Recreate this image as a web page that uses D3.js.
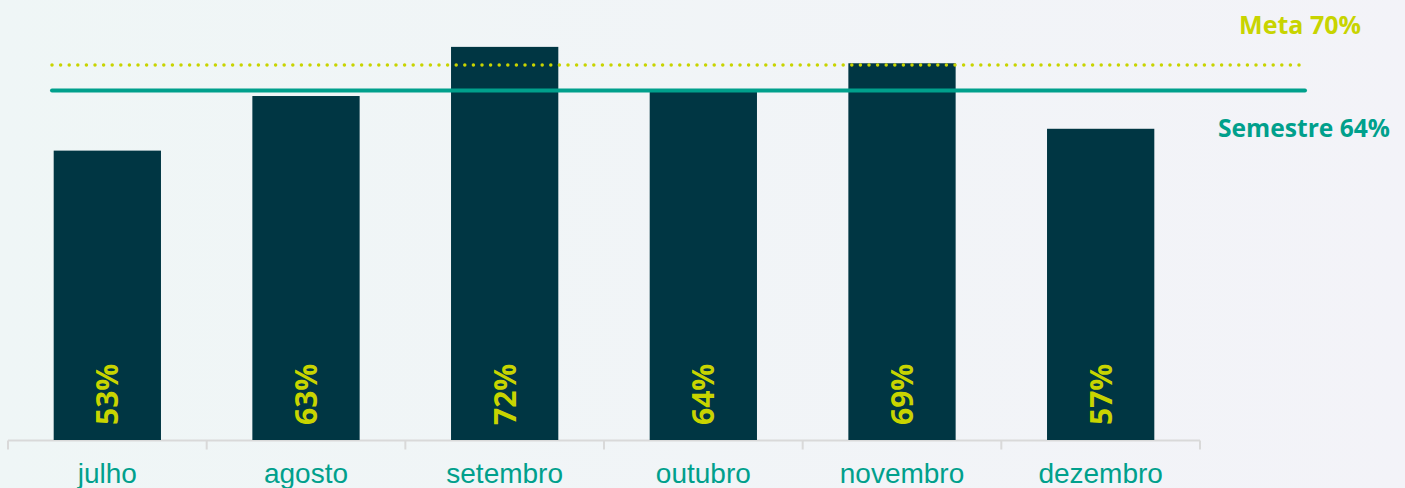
<!DOCTYPE html>
<html>
<head>
<meta charset="utf-8">
<script src="https://cdn.jsdelivr.net/npm/d3@7"></script>
<style>
  html, body { margin: 0; padding: 0; }
  body { width: 1405px; height: 488px; overflow: hidden; }
</style>
</head>
<body>
<script>
var months = ["julho", "agosto", "setembro", "outubro", "novembro", "dezembro"];
var values = [53, 63, 72, 64, 69, 57];
var valueLabels = ["53%", "63%", "72%", "64%", "69%", "57%"];
var metaValue = [68.7];
var metaLabel = ["Meta 70%"];
var semestreValue = [64];
var semestreLabel = ["Semestre 64%"];

function init() {
  var W = 1405, H = 488,
      colors = {bar: "#003643", lime: "#c8d400", teal: "#00a08c", grid: "#d9d9d9"};

  var svg = d3.select("body").append("svg")
    .attr("width", W)
    .attr("height", H);

  var defs = svg.append("defs");
  var grad = defs.append("linearGradient").attr("id", "bg")
    .attr("x1", "0").attr("x2", "1").attr("y1", "0").attr("y2", "0");
  grad.append("stop").attr("offset", "0").attr("stop-color", "#eff6f6");
  grad.append("stop").attr("offset", "1").attr("stop-color", "#f3f3f8");
  svg.append("rect").attr("width", W).attr("height", H).attr("fill", "url(#bg)");

  var x = d3.scaleBand().domain(months).range([8, 1200]).paddingInner(0.46).paddingOuter(0.23);
  var y = d3.scaleLinear().domain([0, 100]).range([440, -106]);

  // baseline + tick marks between the bands
  var gx = svg.append("g").attr("transform", "translate(0,440.5)");
  gx.append("line").attr("x1", 8).attr("x2", 1200)
    .attr("stroke", colors.grid).attr("stroke-width", 2);
  d3.range(months.length + 1).forEach(function (i) {
    var tx = 8 + i * (1192 / months.length);
    gx.append("line").attr("x1", tx).attr("x2", tx).attr("y1", 0).attr("y2", 9)
      .attr("stroke", colors.grid).attr("stroke-width", 2);
  });

  svg.append("g").selectAll("rect").data(values).enter().append("rect")
    .attr("x", function (d, i) { return x(months[i]); })
    .attr("y", function (d) { return y(d); })
    .attr("width", x.bandwidth())
    .attr("height", function (d) { return y(0) - y(d); })
    .attr("fill", colors.bar);

  svg.append("g").selectAll("text").data(valueLabels).enter().append("text")
    .attr("transform", function (d, i) {
      return "translate(" + (x(months[i]) + x.bandwidth() / 2 + 11) + ",425) rotate(-90)";
    })
    .attr("font-family", "'Open Sans', sans-serif")
    .attr("font-weight", "bold")
    .attr("font-size", 30)
    .attr("fill", colors.lime)
    .text(function (d) { return d; });

  svg.append("g").selectAll("text").data(months).enter().append("text")
    .attr("x", function (d) { return x(d) + x.bandwidth() / 2; })
    .attr("y", 483)
    .attr("text-anchor", "middle")
    .attr("font-family", "'Liberation Sans', Arial, sans-serif")
    .attr("font-size", 28)
    .attr("fill", colors.teal)
    .text(function (d) { return d; });

  // reference lines
  svg.append("line")
    .attr("x1", 52).attr("x2", 1300)
    .attr("y1", y(metaValue[0])).attr("y2", y(metaValue[0]))
    .attr("stroke", colors.lime).attr("stroke-width", 3.5)
    .attr("stroke-linecap", "round").attr("stroke-dasharray", "0 8.6");

  svg.append("line")
    .attr("x1", 52).attr("x2", 1305)
    .attr("y1", y(semestreValue[0])).attr("y2", y(semestreValue[0]))
    .attr("stroke", colors.teal).attr("stroke-width", 4)
    .attr("stroke-linecap", "round");

  svg.append("text")
    .attr("x", 1361).attr("y", 34)
    .attr("text-anchor", "end")
    .attr("font-family", "'Open Sans', sans-serif")
    .attr("font-weight", "bold")
    .attr("font-size", 25)
    .attr("fill", colors.lime)
    .text(metaLabel[0]);

  svg.append("text")
    .attr("x", 1390).attr("y", 137)
    .attr("text-anchor", "end")
    .attr("font-family", "'Open Sans', sans-serif")
    .attr("font-weight", "bold")
    .attr("font-size", 24.6)
    .attr("fill", colors.teal)
    .text(semestreLabel[0]);
}

init();
</script>
</body>
</html>
